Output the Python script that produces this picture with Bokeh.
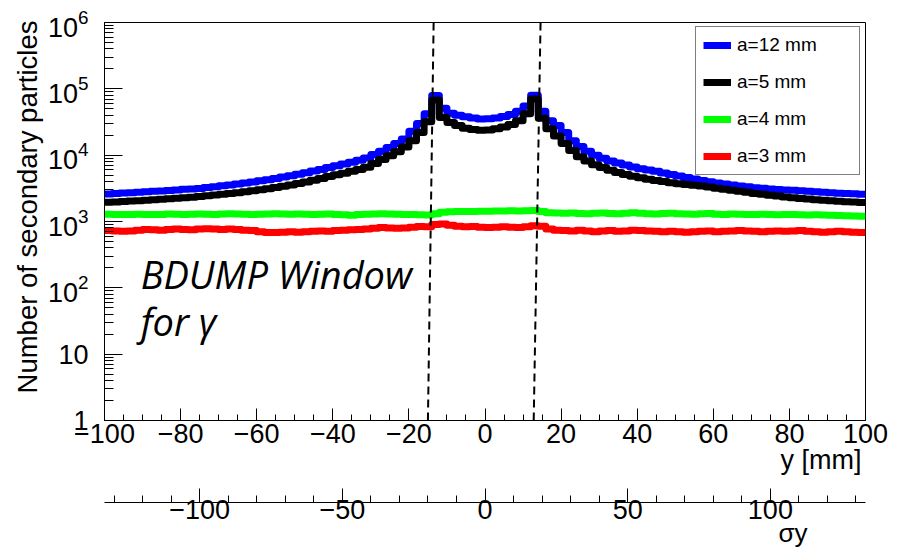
from bokeh.plotting import figure
from bokeh.models import Range1d, FixedTicker, Legend, LegendItem, Label, LinearAxis, Title
from bokeh.layouts import column
from bokeh.embed import file_html
from bokeh.resources import INLINE

# ---------------- data ----------------
BIN_WIDTH = 2.0
bin_centers = list(range(-99, 100, 2))  # y [mm]

blue_a12 = [
    2600, 2640, 2680, 2720, 2760, 2800, 2850, 2890, 2940, 2990,
    3050, 3100, 3150, 3250, 3350, 3450, 3550, 3670, 3800, 3950,
    4100, 4270, 4450, 4670, 4900, 5170, 5450, 5770, 6100, 6500,
    6900, 7350, 7800, 8400, 9100, 10200, 11500, 13000, 15000, 17500,
    23000, 30000, 42000, 79000, 51000, 43000, 40000, 38000, 36200, 35200,
    35400, 36300, 38200, 41000, 46000, 55000, 80000, 46000, 33000, 28000,
    22000, 16500, 13500, 11500, 10000, 9000, 8200, 7600, 7100, 6650,
    6250, 5950, 5700, 5400, 5100, 4850, 4600, 4370, 4150, 3980,
    3820, 3680, 3550, 3430, 3330, 3240, 3160, 3090, 3030, 2980,
    2950, 2920, 2870, 2810, 2760, 2710, 2670, 2640, 2610, 2580,
]
black_a5 = [
    1950, 1970, 2000, 2030, 2060, 2090, 2120, 2160, 2200, 2240,
    2280, 2330, 2380, 2440, 2500, 2570, 2650, 2720, 2800, 2900,
    3000, 3120, 3250, 3400, 3550, 3750, 3950, 4200, 4450, 4750,
    5050, 5350, 5700, 6100, 6600, 7500, 8600, 9800, 11300, 13300,
    16500, 22000, 32000, 68000, 37000, 31000, 28000, 25500, 24300, 23800,
    24000, 25000, 26500, 29000, 33000, 42000, 70000, 36000, 25000, 19500,
    15000, 11800, 9500, 8200, 7200, 6500, 5900, 5500, 5100, 4800,
    4550, 4350, 4150, 4000, 3850, 3720, 3620, 3520, 3420, 3300,
    3180, 3060, 2950, 2850, 2750, 2650, 2570, 2490, 2420, 2350,
    2290, 2230, 2180, 2130, 2090, 2050, 2020, 1990, 1960, 1940,
]
green_a4 = [
    1290, 1280, 1270, 1280, 1290, 1280, 1270, 1280, 1300, 1290,
    1280, 1290, 1300, 1290, 1280, 1300, 1310, 1300, 1290, 1280,
    1290, 1300, 1310, 1300, 1290, 1300, 1290, 1280, 1290, 1300,
    1280, 1260, 1240, 1270, 1290, 1300, 1310, 1300, 1290, 1280,
    1270, 1260, 1250, 1310, 1380, 1400, 1410, 1420, 1420, 1430,
    1430, 1440, 1440, 1450, 1440, 1450, 1470, 1410, 1360, 1340,
    1330, 1340, 1320, 1310, 1330, 1340, 1320, 1310, 1330, 1360,
    1330, 1310, 1300, 1320, 1330, 1310, 1300, 1290, 1310, 1320,
    1290, 1280, 1300, 1290, 1270, 1280, 1290, 1270, 1260, 1280,
    1270, 1260, 1250, 1260, 1250, 1240, 1230, 1220, 1210, 1200,
]
red_a3 = [
    730, 720, 710, 720, 740, 760, 750, 740, 760, 770,
    760, 750, 770, 780, 770, 760, 770, 760, 740, 730,
    700, 680, 680, 690, 700, 690, 700, 710, 720, 710,
    730, 740, 750, 760, 770, 790, 810, 800, 790, 800,
    820, 840, 830, 900, 920, 880, 850, 830, 840, 820,
    810, 820, 830, 820, 810, 830, 860, 850, 770, 740,
    730, 720, 740, 720, 700, 720, 730, 710, 720, 740,
    730, 720, 710, 700, 710, 700, 690, 700, 710, 720,
    700, 710, 720, 730, 720, 710, 700, 710, 720, 710,
    720, 730, 710, 700, 690, 700, 710, 700, 690, 680,
]
series_labels = ["a=12 mm", "a=5 mm", "a=4 mm", "a=3 mm"]
series_colors = ["#0000ff", "#000000", "#00ff00", "#ff0000"]

x_ticks = [-100, -80, -60, -40, -20, 0, 20, 40, 60, 80, 100]
x_minor_ticks = list(range(-100, 101, 5))
y_ticks = [1, 10, 100, 1000, 10000, 100000, 1000000]
y_minor_ticks = [m * 10 ** d for d in range(6) for m in range(2, 10)]
sigma_ticks = [-100, -50, 0, 50, 100]
sigma_minor_ticks = list(range(-130, 131, 10))
SIGMA_PER_MM = 1 / 0.75

# window (dashed) lines: x at top of frame, x at bottom of frame
window_x_top = [-13.5, 14.6]
window_x_bottom = [-15.0, 12.8]

FONT = "Liberation Sans"


def step_path(centers, values):
    xs, ys = [], []
    for c, v in zip(centers, values):
        xs += [c - BIN_WIDTH / 2, c + BIN_WIDTH / 2]
        ys += [v, v]
    return xs, ys


def minus(t):
    return str(t).replace("-", "\u2212")


def side_title(text, size, standoff, offset=0):
    return Title(text=text, align="right", offset=offset, standoff=standoff,
                 text_font=FONT, text_font_size=size, text_font_style="normal",
                 text_color="black")


# ---------------- main figure ----------------
p = figure(frame_width=761, frame_height=398,
           x_range=Range1d(-100, 100), y_range=Range1d(1, 1e6),
           y_axis_type="log", output_backend="svg", toolbar_location=None,
           min_border_left=104, min_border_right=32, min_border_top=22,
           min_border_bottom=62, background_fill_color="white",
           border_fill_color="white")
p.xgrid.visible = False
p.ygrid.visible = False
p.outline_line_color = "black"
p.outline_line_width = 1

renderers = []
for vals, col in zip([blue_a12, black_a5, green_a4, red_a3], series_colors):
    xs, ys = step_path(bin_centers, vals)
    r = p.line(xs, ys, line_color=col, line_width=7, line_join="round")
    renderers.append(r)

p.segment(x0=window_x_top, y0=[1e6, 1e6], x1=window_x_bottom, y1=[1, 1],
          line_color="black", line_width=2, line_dash="8 5")

# x axis
xa = p.xaxis[0]
xa.ticker = FixedTicker(ticks=x_ticks, minor_ticks=x_minor_ticks)
xa.major_label_overrides = {t: minus(t) for t in x_ticks}
xa.major_tick_in = 12
xa.major_tick_out = 0
xa.minor_tick_in = 6
xa.minor_tick_out = 0
xa.axis_line_color = "black"
xa.major_label_standoff = 3
xa.major_label_text_font = FONT
xa.major_label_text_font_size = "27px"
xa.major_label_text_color = "black"
p.add_layout(side_title("y [mm]", "27px", -6, offset=4), "below")

# y axis
ya = p.yaxis[0]
ya.ticker = FixedTicker(ticks=y_ticks, minor_ticks=y_minor_ticks)
ya.major_label_overrides = {1: "1", 10: "10"}
ya.major_tick_in = 18
ya.major_tick_out = 0
ya.minor_tick_in = 9
ya.minor_tick_out = 0
ya.major_label_standoff = 16
ya.major_label_text_font = FONT
ya.major_label_text_font_size = "27px"
ya.major_label_text_color = "black"
p.add_layout(side_title("Number of secondary particles", "27.5px", 4, offset=-2), "left")

legend = Legend(items=[LegendItem(label=l, renderers=[r]) for l, r in zip(series_labels, renderers)],
                location=(591, 245), orientation="vertical",
                glyph_width=28, glyph_height=22, label_height=22, label_width=115,
                spacing=15, padding=7, margin=0, label_standoff=6,
                label_text_font=FONT, label_text_font_size="19px",
                label_text_color="black",
                border_line_color="black", border_line_width=1,
                background_fill_color="white", background_fill_alpha=1)
p.add_layout(legend)

for txt, yv in [("BDUMP Window", 159), ("for \u03b3", 32)]:
    p.add_layout(Label(x=-90.5, y=yv, text=txt, text_font="Open Sans",
                       text_font_style="italic", text_font_size="38px",
                       text_color="black", text_baseline="alphabetic"))

# ---------------- secondary (sigma) axis ----------------
p2 = figure(frame_width=761, frame_height=1,
            x_range=Range1d(-100 * SIGMA_PER_MM, 100 * SIGMA_PER_MM), y_range=Range1d(0, 1),
            x_axis_location=None, y_axis_location=None,
            output_backend="svg", toolbar_location=None,
            min_border_left=104, min_border_right=32, min_border_top=19,
            min_border_bottom=47, outline_line_color=None,
            background_fill_color="white", border_fill_color="white")
p2.xgrid.visible = False
p2.ygrid.visible = False
ax2 = LinearAxis(ticker=FixedTicker(ticks=sigma_ticks, minor_ticks=sigma_minor_ticks),
                 major_label_overrides={t: minus(t) for t in sigma_ticks},
                 major_tick_in=14, major_tick_out=0, minor_tick_in=7, minor_tick_out=0,
                 major_label_standoff=-3, major_label_text_font=FONT,
                 major_label_text_font_size="27px", major_label_text_color="black",
                 axis_line_color="black")
p2.add_layout(ax2, "below")
p2.add_layout(side_title("\u03c3y", "26px", -11, offset=58), "below")

layout = column(p, p2, spacing=0)
open("out.html", "w").write(file_html(layout, INLINE))
